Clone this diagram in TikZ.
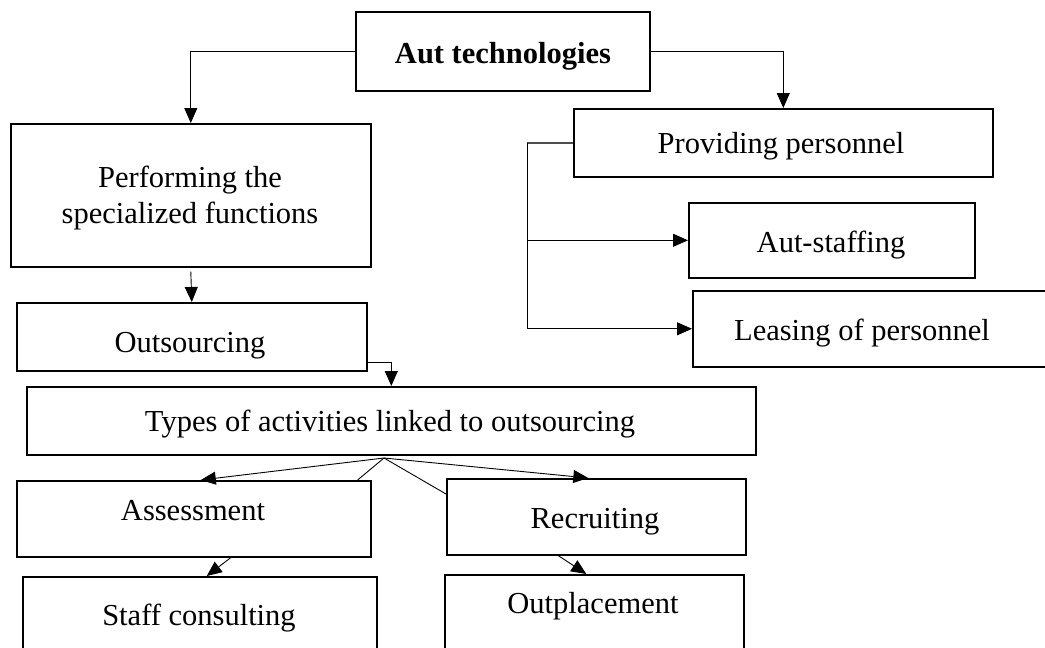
\documentclass[tikz,border=0pt]{standalone}
\usepackage{fontspec}
\setmainfont{Liberation Serif}
\usetikzlibrary{arrows.meta}
\tikzset{
  box/.style={draw, line width=1.6pt, anchor=north west, inner sep=0pt, rectangle},
  txt/.style={anchor=base, inner sep=0pt, font=\fontsize{30.5}{36}\selectfont},
  conn/.style={line width=0.9pt},
  arr/.style={conn, -{Triangle[length=15pt,width=13pt]}}
}
\begin{document}
\begin{tikzpicture}[x=1pt,y=-1pt]
\useasboundingbox (0,0) rectangle (1045,648);
\clip (0,0) rectangle (1045,648);
% boxes
\node[box, minimum width=294, minimum height=79] (aut) at (355,11) {};
\node[box, minimum width=360, minimum height=143] (perf) at (10,123) {};
\node[box, minimum width=350, minimum height=68] (outs) at (16,302) {};
\node[box, minimum width=729, minimum height=68] (types) at (26,386) {};
\node[box, minimum width=354, minimum height=76] (assess) at (16,480) {};
\node[box, minimum width=354, minimum height=84] (staff) at (22,576) {};
\node[box, minimum width=299, minimum height=76] (recr) at (446,478) {};
\node[box, minimum width=299, minimum height=86] (outpl) at (444,574) {};
\node[box, minimum width=419, minimum height=68] (prov) at (573,108) {};
\node[box, minimum width=286, minimum height=75] (astaff) at (688,202) {};
\node[box, minimum width=368, minimum height=76] (leas) at (692,290) {};
% texts
\node[txt] (tAut) at (503,63) {\bfseries Aut technologies};
\node[txt] (tPerf1) at (190,187) {Performing the};
\node[txt] (tPerf2) at (190,223) {specialized functions};
\node[txt] (tOuts) at (190,352) {Outsourcing};
\node[txt] (tTypes) at (390,431) {Types of activities linked to outsourcing};
\node[txt] (tAssess) at (193,520) {Assessment};
\node[txt] (tStaff) at (199,625) {Staff consulting};
\node[txt] (tRecr) at (595,528) {Recruiting};
\node[txt] (tOutpl) at (593,613) {Outplacement};
\node[txt] (tProv) at (781,153) {Providing personnel};
\node[txt] (tAstaff) at (831,252) {Aut-staffing};
\node[txt] (tLeas) at (862,340) {Leasing of personnel};
% connectors
\draw[arr] (aut.west) -| (perf.north);
\draw[arr] (aut.east) -| (prov.north);
\draw[conn, line width=1.6pt, draw=black!70] (prov.west) -- ++(-46,0) coordinate (j);
\draw[arr] (j) |- (astaff.west);
\draw[arr] (j) |- (leas.west);
\draw[arr] ([yshift=-4pt]perf.south) -- (outs.north);
\draw[arr] ([yshift=-26pt]outs.east) -| (types.north);
\coordinate (fan) at (384,458);
\draw[arr] (fan) -- ([xshift=7pt]assess.north);
\draw[arr] (fan) -- ([xshift=-8pt]recr.north);
\draw[conn] (fan) -- ([xshift=-14pt]assess.north east);
\draw[conn] (fan) -- ([yshift=-16pt]recr.north west);
\draw[arr] ([xshift=37pt]assess.south) -- ([xshift=7pt]staff.north);
\draw[arr] ([xshift=-38pt]recr.south) -- ([xshift=-8pt]outpl.north);
\end{tikzpicture}
\end{document}
